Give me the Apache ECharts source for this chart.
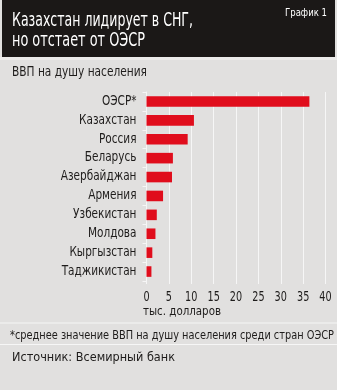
<!DOCTYPE html>
<html>
<head>
<meta charset="utf-8">
<style>
  html, body { margin: 0; padding: 0; background: #e1e0df; }
  #chart { width: 337px; height: 390px; }
</style>
<script src="https://cdn.jsdelivr.net/npm/echarts@6/dist/echarts.min.js"></script>
</head>
<body>
<div id="chart"></div>
<script>
// ВВП на душу населения, тыс. долларов
const countries = ['ОЭСР*', 'Казахстан', 'Россия', 'Беларусь', 'Азербайджан', 'Армения', 'Узбекистан', 'Молдова', 'Кыргызстан', 'Таджикистан'];
const gdpPerCapita = [36.4, 10.6, 9.2, 5.9, 5.7, 3.7, 2.3, 2.0, 1.3, 1.1];
const xTicks = [0, 5, 10, 15, 20, 25, 30, 35, 40];

const FONT = "'DejaVu Sans Condensed', 'DejaVu Sans', sans-serif";
const TEXT = '#1e1c1b';
const LINE = '#f6f6f6';

// the typeface is narrow: text is measured and squeezed horizontally
const measureCtx = document.createElement('canvas').getContext('2d');
function textWidth(text, size) {
  measureCtx.font = size + 'px ' + FONT;
  return measureCtx.measureText(text).width;
}
function fitText(text, size, x, yTop, width, fill) {
  return {
    type: 'text', x: x, y: yTop, scaleX: width / textWidth(text, size), scaleY: 1, silent: true,
    style: { text: text, fill: fill, font: size + 'px ' + FONT, x: 0, y: 0, verticalAlign: 'top' }
  };
}
function narrowLabel(text, size, x, y, squeeze, align, vAlign) {
  return {
    type: 'text', x: x, y: y, scaleX: squeeze, scaleY: 1, silent: true,
    style: { text: text, fill: TEXT, font: size + 'px ' + FONT, x: 0, y: 0, align: align, verticalAlign: vAlign }
  };
}

const chart = echarts.init(document.getElementById('chart'), null, { renderer: 'canvas' });

chart.setOption({
  backgroundColor: '#e1e0df',
  animation: false,
  textStyle: { fontFamily: FONT },
  grid: { left: 146.5, right: 11.5, top: 92, bottom: 109, containLabel: false },
  xAxis: {
    type: 'value',
    min: xTicks[0],
    max: xTicks[xTicks.length - 1],
    interval: xTicks[1] - xTicks[0],
    axisLine: { show: false },
    axisTick: { show: true, length: 3, lineStyle: { color: LINE, width: 1 } },
    splitLine: { show: true, lineStyle: { color: LINE, width: 1 } },
    axisLabel: { show: false }
  },
  yAxis: {
    type: 'category',
    inverse: true,
    data: countries,
    axisLine: { show: true, lineStyle: { color: LINE, width: 1 } },
    axisTick: { show: true, length: 4, lineStyle: { color: LINE, width: 1 } },
    axisLabel: { show: false }
  },
  series: [{
    type: 'bar',
    data: gdpPerCapita,
    barWidth: '56%',
    itemStyle: { color: '#e00d1c' },
    silent: true
  }]
});

// axis labels, placed from the axes' own scales
const catSize = 14.5;
const catSqueeze = 57.4 / textWidth('Казахстан', catSize);
const tickSize = 14;
const tickSqueeze = 12.3 / textWidth('10', tickSize);
const catLabels = countries.map(function (name) {
  const y = chart.convertToPixel({ yAxisIndex: 0 }, name);
  return narrowLabel(name, catSize, 136.5, y - 0.5, catSqueeze, 'right', 'middle');
});
const tickLabels = xTicks.map(function (v) {
  const x = chart.convertToPixel({ xAxisIndex: 0 }, v);
  return narrowLabel(String(v), tickSize, x, 290.5, tickSqueeze, 'center', 'top');
});

chart.setOption({
  graphic: [
    { type: 'rect', left: 2, top: 0, shape: { width: 333, height: 57 }, style: { fill: '#1b1817' } },
    { type: 'rect', left: 0, top: 57, shape: { width: 337, height: 3 }, style: { fill: '#ecebea' } },
    fitText('Казахстан лидирует в СНГ,', 19, 12, 11.5, 181, '#ffffff'),
    fitText('но отстает от ОЭСР', 19, 12, 32, 133, '#ffffff'),
    fitText('График 1', 10, 285, 8.5, 42, '#ffffff'),
    fitText('ВВП на душу населения', 13.7, 12, 65, 135, TEXT),
    fitText('тыс. долларов', 13, 143, 305, 78, TEXT),
    { type: 'rect', left: 0, top: 322.5, shape: { width: 337, height: 1 }, style: { fill: LINE } },
    fitText('*среднее значение ВВП на душу населения среди стран ОЭСР', 12.8, 10, 329, 324, TEXT),
    { type: 'rect', left: 0, top: 344, shape: { width: 337, height: 1 }, style: { fill: LINE } },
    fitText('Источник: Всемирный банк', 12.8, 12, 351.5, 163, TEXT)
  ].concat(catLabels, tickLabels)
});
</script>
</body>
</html>
